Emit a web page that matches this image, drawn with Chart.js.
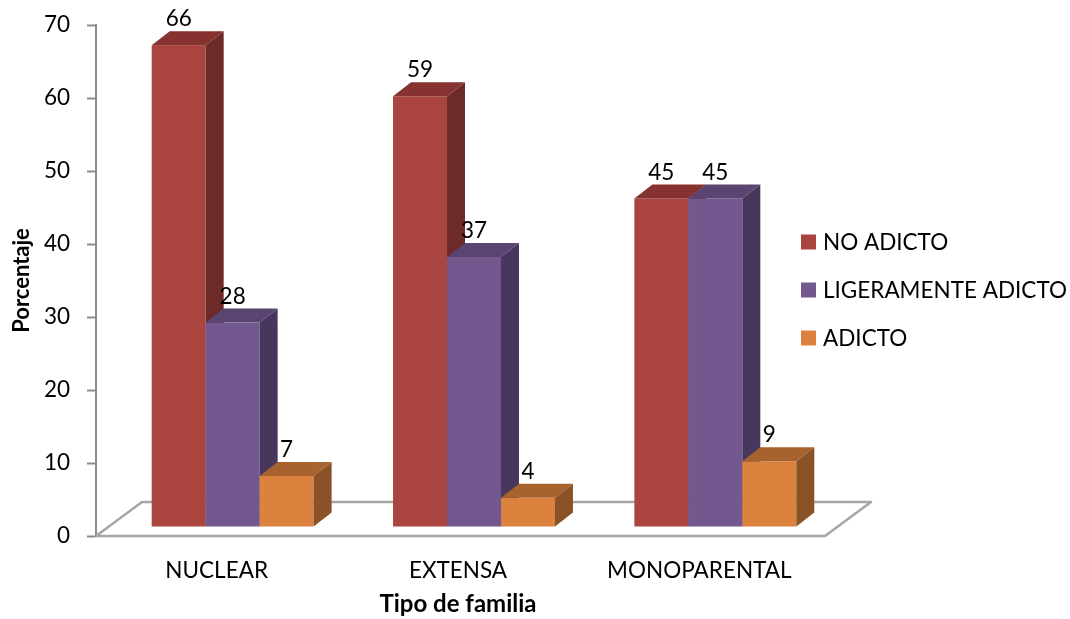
<!DOCTYPE html>
<html>
<head>
<meta charset="utf-8">
<script src="https://cdn.jsdelivr.net/npm/chart.js@4/dist/chart.umd.min.js"></script>
<style>
  html, body { margin: 0; padding: 0; background: #ffffff; }
  #wrap { width: 1070px; height: 619px; position: relative; }
</style>
</head>
<body>
<div id="wrap"><canvas id="c" width="1070" height="619"></canvas></div>
<script>
// Porcentaje por tipo de familia
const categories = ['NUCLEAR', 'EXTENSA', 'MONOPARENTAL'];
const seriesNames = ['NO ADICTO', 'LIGERAMENTE ADICTO', 'ADICTO'];
const noAdicto = [66, 59, 45];
const ligeramenteAdicto = [28, 37, 45];
const adicto = [7, 4, 9];
const yTicks = [0, 10, 20, 30, 40, 50, 60, 70];

// front / top / side shades for each series
const shades = [
  { front: '#A9443F', top: '#853230', side: '#6D2A29' },
  { front: '#72588E', top: '#5A4471', side: '#48375C' },
  { front: '#DA823E', top: '#A8622D', side: '#8A5327' }
];

const FONT = 'Lato, "Open Sans", sans-serif';
const TEXT_SIZE = 22.5;
const DEPTH = { x: 18, y: -14 };      // depth of each bar
const SHIFT = { x: 16, y: -9 };       // bars stand inside the floor
const FLOOR = { x: 46, y: -34, extra: 5 };

function drawPrism(ctx, p, s) {
  const left = p.x - p.width / 2, right = p.x + p.width / 2;
  ctx.fillStyle = s.front;
  ctx.fillRect(left, p.y, p.width, p.base - p.y);
  ctx.fillStyle = s.top;
  ctx.beginPath();
  ctx.moveTo(left, p.y);
  ctx.lineTo(left + DEPTH.x, p.y + DEPTH.y);
  ctx.lineTo(right + DEPTH.x, p.y + DEPTH.y);
  ctx.lineTo(right, p.y);
  ctx.closePath();
  ctx.fill();
  ctx.fillStyle = s.side;
  ctx.beginPath();
  ctx.moveTo(right, p.y);
  ctx.lineTo(right + DEPTH.x, p.y + DEPTH.y);
  ctx.lineTo(right + DEPTH.x, p.base + DEPTH.y);
  ctx.lineTo(right, p.base);
  ctx.closePath();
  ctx.fill();
}

const floorAndBars = {
  id: 'floorAndBars',
  beforeDatasetsDraw(chart) {
    const ctx = chart.ctx;
    const area = chart.chartArea;
    const y0 = chart.scales.y.getPixelForValue(0);
    const l = area.left, r = area.right + FLOOR.extra;
    ctx.save();
    ctx.strokeStyle = '#A6A6A6';
    ctx.lineWidth = 2.5;
    ctx.lineJoin = 'round';
    ctx.beginPath();
    ctx.moveTo(l, y0);
    ctx.lineTo(l + FLOOR.x, y0 + FLOOR.y);
    ctx.lineTo(r + FLOOR.x, y0 + FLOOR.y);
    ctx.lineTo(r, y0);
    ctx.lineTo(l, y0);
    ctx.stroke();
    ctx.restore();
  },
  // the flat bars are replaced by the prisms drawn below
  beforeDatasetDraw() { return false; },
  afterDatasetsDraw(chart) {
    const ctx = chart.ctx;
    const metas = chart.data.datasets.map((ds, i) => chart.getDatasetMeta(i));
    ctx.save();
    ctx.translate(SHIFT.x, SHIFT.y);
    // left-to-right inside each group so nearer faces cover the sides behind them
    categories.forEach((c, j) => {
      metas.forEach((meta, i) => {
        const p = meta.data[j].getProps(['x', 'y', 'base', 'width'], true);
        drawPrism(ctx, p, shades[i]);
      });
    });
    ctx.fillStyle = '#000000';
    ctx.font = TEXT_SIZE + 'px ' + FONT;
    ctx.textAlign = 'center';
    ctx.textBaseline = 'alphabetic';
    chart.data.datasets.forEach((ds, i) => {
      metas[i].data.forEach((el, j) => {
        const p = el.getProps(['x', 'y'], true);
        ctx.fillText(String(ds.data[j]), p.x, p.y + DEPTH.y - 5);
      });
    });
    ctx.restore();
  }
};

const sideLegend = {
  id: 'sideLegend',
  afterDraw(chart) {
    const ctx = chart.ctx;
    ctx.save();
    ctx.font = TEXT_SIZE + 'px ' + FONT;
    ctx.textAlign = 'left';
    ctx.textBaseline = 'middle';
    chart.data.datasets.forEach((ds, i) => {
      const cy = 242 + i * 48;
      ctx.fillStyle = ds.backgroundColor;
      ctx.fillRect(801, cy - 7.5, 15, 15);
      ctx.fillStyle = '#000000';
      ctx.fillText(ds.label, 823, cy + 1);
    });
    ctx.restore();
  }
};

const seriesValues = [noAdicto, ligeramenteAdicto, adicto];

new Chart(document.getElementById('c'), {
  type: 'bar',
  data: {
    labels: categories,
    datasets: seriesNames.map((name, i) => ({
      label: name,
      data: seriesValues[i],
      backgroundColor: shades[i].front,
      borderWidth: 0,
      clip: false
    }))
  },
  options: {
    responsive: false,
    animation: false,
    devicePixelRatio: 1,
    layout: { padding: { top: 25, right: 250, bottom: 0, left: 0 } },
    datasets: { bar: { categoryPercentage: 0.671, barPercentage: 1 } },
    plugins: {
      legend: { display: false },
      tooltip: { enabled: false }
    },
    scales: {
      x: {
        grid: { display: false, drawTicks: false },
        border: { display: false },
        ticks: { color: '#000', font: { family: FONT, size: TEXT_SIZE }, padding: 21 },
        title: { display: true, text: 'Tipo de familia', color: '#000',
                 font: { family: FONT, size: 24, weight: 'bold' }, padding: { top: 0, bottom: 0 } },
        afterFit(scale) { scale.height = 83; }
      },
      y: {
        min: 0, max: 70,
        afterBuildTicks(scale) { scale.ticks = yTicks.map(v => ({ value: v })); },
        grid: { drawOnChartArea: false, drawTicks: true, tickLength: 9, tickColor: '#8C8C8C', tickWidth: 2 },
        border: { display: true, color: '#8C8C8C', width: 2 },
        ticks: { color: '#000', font: { family: FONT, size: TEXT_SIZE }, padding: 17 },
        title: { display: true, text: 'Porcentaje', color: '#000',
                 font: { family: FONT, size: 22, weight: 'bold' }, padding: { top: 9, bottom: 0 } },
        afterFit(scale) {
          scale.width = 96;
          scale.paddingTop = 0;
          scale.paddingBottom = 0;
        }
      }
    }
  },
  plugins: [floorAndBars, sideLegend]
});
</script>
</body>
</html>
